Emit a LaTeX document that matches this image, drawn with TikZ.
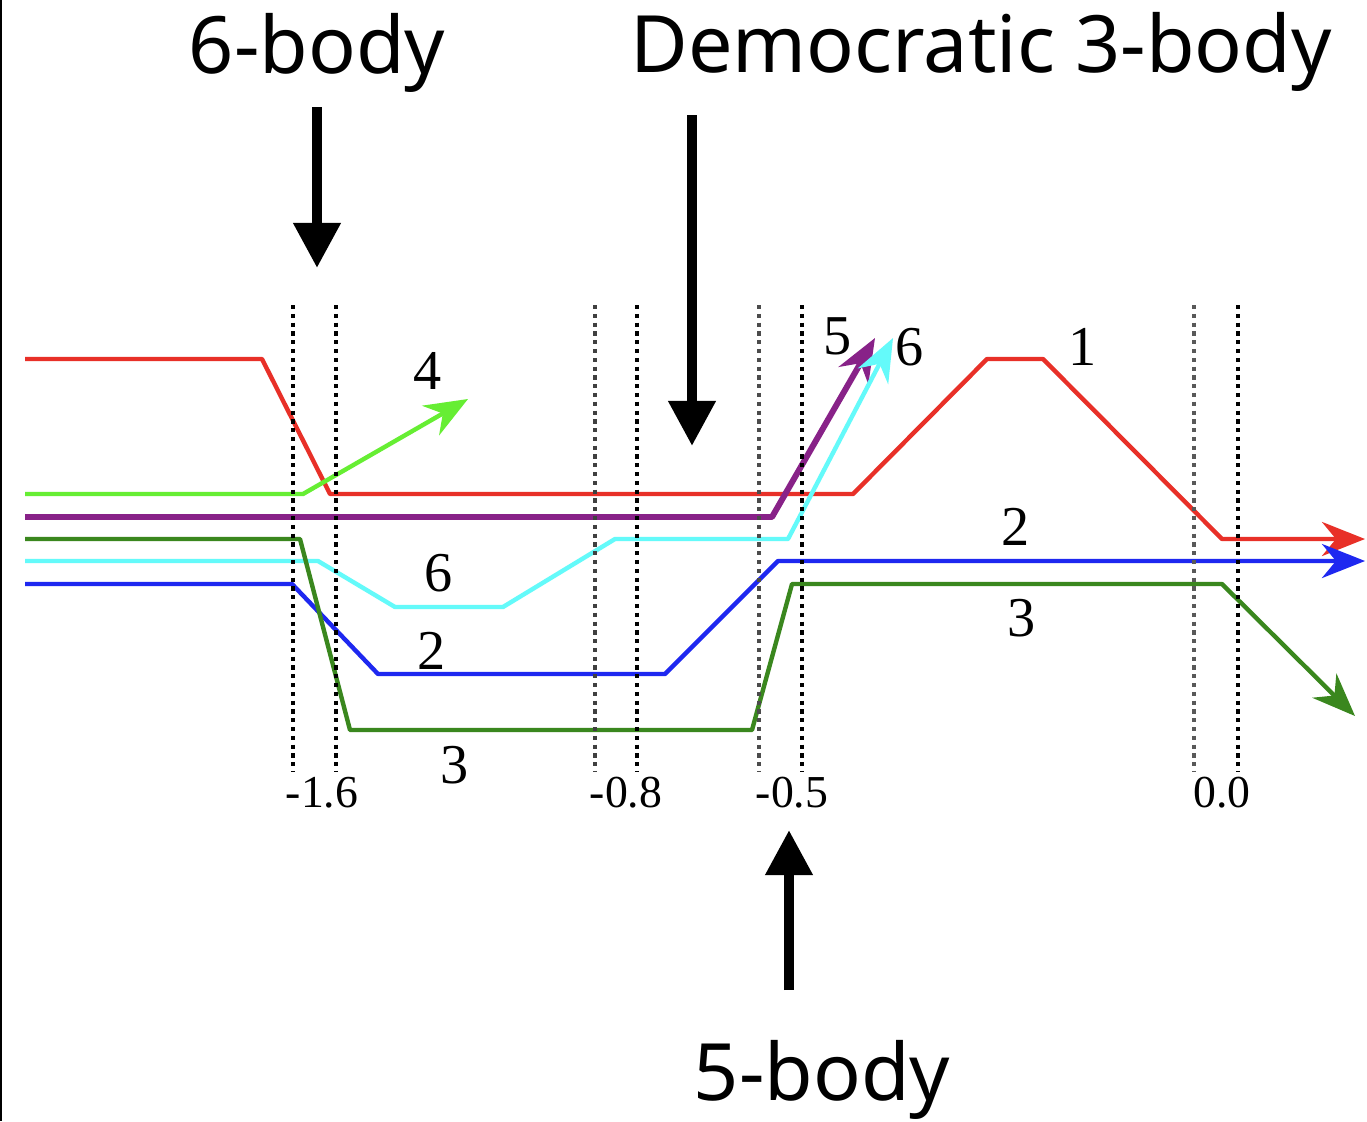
\documentclass[tikz,border=0pt]{standalone}
\usepackage{fontspec}
\setmainfont{Liberation Serif}
\newfontfamily\labsans{Noto Sans}
\usetikzlibrary{arrows.meta}
\definecolor{cred}{RGB}{232,48,40}
\definecolor{clgreen}{RGB}{102,238,51}
\definecolor{cpurple}{RGB}{136,34,136}
\definecolor{cdgreen}{RGB}{58,135,30}
\definecolor{ccyan}{RGB}{100,250,250}
\definecolor{cblue}{RGB}{30,40,240}
\begin{document}
\begin{tikzpicture}[x=0.01cm,y=-0.01cm,
  traj/.style={line width=1.25pt, line join=round},
  tipped/.style={-{Stealth[length=0.43cm,width=0.34cm]}},
  guide/.style={line width=0.9pt, dash pattern=on 1.2pt off 1.3pt},
  num/.style={font=\fontsize{16}{16}\selectfont, inner sep=0pt},
  ticklab/.style={font=\fontsize{13}{13}\selectfont, inner sep=0pt},
  big/.style={font=\labsans\fontsize{22.5}{26}\selectfont, inner sep=0pt},
  bigarrow/.style={line width=2.9pt, -{Triangle[length=0.45cm,width=0.45cm]}}]
\useasboundingbox (0,0) rectangle (1367,1121);
\fill[white] (0,0) rectangle (1367,1121);
\draw[line width=0.6pt] (1,0) -- (1,1121);

% trajectories
\draw[traj, cred, tipped] (25,359) -- (262,359) -- (330,494) -- (853,494) -- (987,359) -- (1043,359) -- (1222,539) -- (1365,539);
\draw[traj, cpurple, line width=1.7pt, tipped] (25,517) -- (772,517) -- (875,338);
\draw[traj, ccyan, tipped] (25,561) -- (318,561) -- (395,607) -- (503,607) -- (615,539) -- (788,539) -- (893,338);
\draw[traj, cblue, tipped] (25,584) -- (292,584) -- (378,674) -- (665,674) -- (778,561) -- (1365,561);
\draw[traj, cdgreen, tipped] (25,539) -- (300,539) -- (350,730) -- (752,730) -- (792,584) -- (1222,584) -- (1355,716);
\draw[traj, clgreen, tipped] (25,494) -- (303,494) -- (468,399);

% guide lines
\draw[guide] (293,305) -- (293,772);
\draw[guide] (336,305) -- (336,772);
\draw[guide, black!75] (595,305) -- (595,772);
\draw[guide] (637,305) -- (637,772);
\draw[guide, black!70] (759,305) -- (759,772);
\draw[guide] (802,305) -- (802,772);
\draw[guide, black!65] (1194,305) -- (1194,772);
\draw[guide] (1238,305) -- (1238,772);

% tick labels
\node[ticklab] (t1) at (322,793) {-1.6};
\node[ticklab] (t2) at (626,793) {-0.8};
\node[ticklab] (t3) at (792,793) {-0.5};
\node[ticklab] (t4) at (1222,793) {0.0};

% particle labels
\node[num] (n4) at (428,371) {4};
\node[num] (n5) at (838,336) {5};
\node[num] (n6a) at (910,347) {6};
\node[num] (n1) at (1083,347) {1};
\node[num] (n6b) at (439,573) {6};
\node[num] (n2a) at (432,651) {2};
\node[num] (n3a) at (455,765) {3};
\node[num] (n2b) at (1016,527) {2};
\node[num] (n3b) at (1022,618) {3};

% big labels and arrows
\node[big] (l6) at (317,53) {6-body};
\node[big] (ld) at (981,52) {Democratic 3-body};
\node[big] (l5) at (822,1080) {5-body};
\coordinate (a6s) at (317,107);
\coordinate (a6e) at (317,268);
\coordinate (ads) at (692,115);
\coordinate (ade) at (692,446);
\coordinate (a5s) at (789,990);
\coordinate (a5e) at (789,830);
\draw[bigarrow] (a6s) -- (a6e);
\draw[bigarrow] (ads) -- (ade);
\draw[bigarrow] (a5s) -- (a5e);
\end{tikzpicture}
\end{document}
